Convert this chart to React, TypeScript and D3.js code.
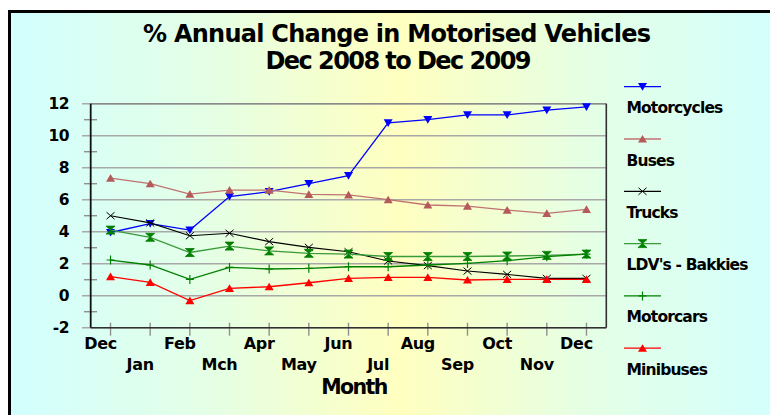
import React from 'react';
import * as d3 from 'd3';

const months = ['Dec', 'Jan', 'Feb', 'Mch', 'Apr', 'May', 'Jun', 'Jul', 'Aug', 'Sep', 'Oct', 'Nov', 'Dec'];
const motorcycles = [3.95, 4.5, 4.1, 6.2, 6.5, 7.0, 7.5, 10.8, 11.0, 11.3, 11.3, 11.6, 11.8];
const buses = [7.35, 7.0, 6.35, 6.6, 6.6, 6.33, 6.3, 6.0, 5.67, 5.6, 5.35, 5.15, 5.4];
const trucks = [5.0, 4.55, 3.75, 3.9, 3.38, 3.02, 2.75, 2.17, 1.88, 1.54, 1.33, 1.08, 1.08];
const ldvs = [4.1, 3.65, 2.7, 3.1, 2.8, 2.65, 2.6, 2.45, 2.45, 2.45, 2.48, 2.52, 2.6];
const motorcars = [2.23, 1.92, 1.02, 1.77, 1.67, 1.71, 1.81, 1.81, 1.92, 2.02, 2.19, 2.44, 2.6];
const minibuses = [1.19, 0.83, -0.31, 0.46, 0.56, 0.81, 1.08, 1.15, 1.15, 0.98, 1.02, 1.02, 1.02];
const seriesNames = ['Motorcycles', 'Buses', 'Trucks', "LDV's - Bakkies", 'Motorcars', 'Minibuses'];
const yMajorTicks = [-2, 0, 2, 4, 6, 8, 10, 12];
const yMinorTicks = [-1, 1, 3, 5, 7, 9, 11];
const titleLines = ['% Annual Change in Motorised Vehicles', 'Dec 2008 to Dec 2009'];
const xTitle = 'Month';

const seriesValues = [motorcycles, buses, trucks, ldvs, motorcars, minibuses];
const styles = [
  { line: '#0000ff', marker: '#0000ff', shape: 'down', w: 1.3 },
  { line: '#c07272', marker: '#b55a5a', shape: 'up', w: 1.3 },
  { line: '#000000', marker: '#000000', shape: 'x', w: 1.1 },
  { line: '#3a9a3a', marker: '#008000', shape: 'bowtie', w: 1.3 },
  { line: '#008000', marker: '#008000', shape: 'plus', w: 1.3 },
  { line: '#ff0000', marker: '#ff0000', shape: 'up', w: 1.3 },
];

const FONT = '"DejaVu Sans", Arial, sans-serif';

function Marker({ shape, color, x, y }: { shape: string; color: string; x: number; y: number }) {
  const s = 4.5;
  if (shape === 'down') {
    return <path d={`M${x - s},${y - s * 0.8}L${x + s},${y - s * 0.8}L${x},${y + s * 0.9}Z`} fill={color} />;
  }
  if (shape === 'up') {
    return <path d={`M${x - s},${y + s * 0.8}L${x + s},${y + s * 0.8}L${x},${y - s * 0.9}Z`} fill={color} />;
  }
  if (shape === 'x') {
    return (
      <path d={`M${x - 4},${y - 3.5}L${x + 4},${y + 3.5}M${x - 4},${y + 3.5}L${x + 4},${y - 3.5}`} stroke={color} strokeWidth={1} fill="none" />
    );
  }
  if (shape === 'bowtie') {
    return (
      <path d={`M${x - 4.5},${y - 4}L${x + 4.5},${y - 4}L${x},${y}L${x + 4.5},${y + 4}L${x - 4.5},${y + 4}L${x},${y}Z`} fill={color} stroke={color} strokeWidth={0.8} />
    );
  }
  return <path d={`M${x - 4},${y}L${x + 4},${y}M${x},${y - 4.5}L${x},${y + 4.5}`} stroke={color} strokeWidth={1.2} fill="none" />;
}

export default function App() {
  const W = 770;
  const H = 415;
  const left = 90.7;
  const right = 606.3;
  const top = 103.7;
  const bottom = 327.7;

  const x = d3.scalePoint<number>().domain(d3.range(months.length)).range([left, right]).padding(0.5);
  const y = d3.scaleLinear().domain([-2, 12]).range([bottom, top]);
  const line = d3
    .line<number>()
    .x((_, i) => x(i) as number)
    .y((d) => y(d));

  const legendX0 = 624;
  const legendX1 = 661;
  const legendY0 = 86.7;
  const legendStep = 52.3;

  return (
    <div style={{ position: 'absolute', left: 0, top: 0 }}>
      <svg width={W} height={H} style={{ display: 'block' }}>
        <defs>
          <linearGradient id="bg" x1="0" x2="1" y1="0" y2="0">
            <stop offset="0" stopColor="#d2ffff" />
            <stop offset="0.25" stopColor="#e4ffe6" />
            <stop offset="0.5" stopColor="#ffffc0" />
            <stop offset="0.75" stopColor="#e4ffe6" />
            <stop offset="1" stopColor="#d2ffff" />
          </linearGradient>
        </defs>
        <rect x={0} y={0} width={W} height={H} fill="#ffffff" />
        <rect x={9.5} y={11.5} width={781} height={420} fill="url(#bg)" stroke="#000" strokeWidth={3} />

        {/* titles */}
        <text x={397} y={42} textAnchor="middle" fontFamily={FONT} fontWeight="bold" fontSize={24} textLength={508} lengthAdjust="spacing" fill="#000">
          {titleLines[0]}
        </text>
        <text x={398.5} y={69} textAnchor="middle" fontFamily={FONT} fontWeight="bold" fontSize={24} textLength={266} lengthAdjust="spacing" fill="#000">
          {titleLines[1]}
        </text>

        {/* gridlines */}
        {yMajorTicks.map((t) => (
          <line key={'g' + t} x1={82} x2={right} y1={y(t)} y2={y(t)} stroke="#a8a8a8" strokeWidth={1.6} />
        ))}
        {yMinorTicks.map((t) => (
          <line key={'m' + t} x1={84} x2={97} y1={y(t)} y2={y(t)} stroke="#909090" strokeWidth={1.4} />
        ))}
        {months.map((_, i) => (
          <line key={'xt' + i} x1={x(i)} x2={x(i)} y1={bottom - 5} y2={bottom + 8} stroke="#909090" strokeWidth={1.4} />
        ))}
        {/* plot frame */}
        <line x1={left} x2={right} y1={top} y2={top} stroke="#8a8a8a" strokeWidth={1.6} />
        <line x1={right} x2={right} y1={top} y2={bottom} stroke="#303030" strokeWidth={1.6} />
        <line x1={left} x2={right} y1={bottom} y2={bottom} stroke="#303030" strokeWidth={1.6} />
        <line x1={left} x2={left} y1={top} y2={bottom} stroke="#101010" strokeWidth={1.8} />

        {/* y labels */}
        {yMajorTicks.map((t) => (
          <text key={'yl' + t} x={69} y={y(t)} dy="0.36em" textAnchor="end" fontFamily={FONT} fontWeight="bold" fontSize={15.5} letterSpacing={-0.5} fill="#000">
            {t}
          </text>
        ))}

        {/* x labels */}
        {months.map((m, i) => (
          <text key={'xl' + i} x={(x(i) as number) - 10} y={i % 2 === 0 ? 348.5 : 369.5} textAnchor="middle" fontFamily={FONT} fontWeight="bold" fontSize={16} letterSpacing={-0.3} fill="#000">
            {m}
          </text>
        ))}
        <text x={354} y={394} textAnchor="middle" fontFamily={FONT} fontWeight="bold" fontSize={20.5} letterSpacing={-1.6} fill="#000">
          {xTitle}
        </text>

        {/* series */}
        {seriesValues.map((vals, si) => (
          <g key={'s' + si}>
            <path d={line(vals) || ''} fill="none" stroke={styles[si].line} strokeWidth={styles[si].w} />
            {vals.map((v, i) => (
              <Marker key={i} shape={styles[si].shape} color={styles[si].marker} x={x(i) as number} y={y(v)} />
            ))}
          </g>
        ))}

        {/* legend */}
        {seriesNames.map((name, si) => {
          const ly = legendY0 + si * legendStep;
          return (
            <g key={'lg' + si}>
              <line x1={legendX0} x2={legendX1} y1={ly} y2={ly} stroke={styles[si].line} strokeWidth={1.3} />
              <Marker shape={styles[si].shape} color={styles[si].marker} x={(legendX0 + legendX1) / 2} y={ly} />
              <text x={626.5} y={ly + 26.5} fontFamily={FONT} fontWeight="bold" fontSize={15.5} letterSpacing={-0.85} fill="#000">
                {name}
              </text>
            </g>
          );
        })}
      </svg>
    </div>
  );
}
